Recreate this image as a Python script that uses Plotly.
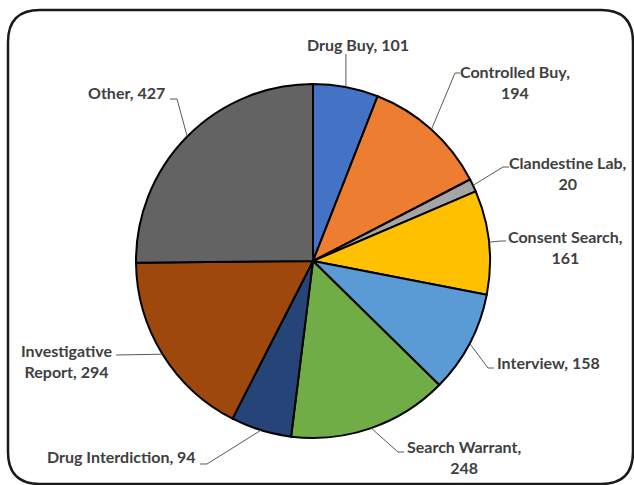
import math
import plotly.graph_objects as go

categories = ["Drug Buy", "Controlled Buy", "Clandestine Lab", "Consent Search",
              "Interview", "Search Warrant", "Drug Interdiction",
              "Investigative Report", "Other"]
values = [101, 194, 20, 161, 158, 248, 94, 294, 427]
colors = ["#4472C4", "#ED7D31", "#A5A5A5", "#FFC000", "#5B9BD5",
          "#70AD47", "#264478", "#9E480E", "#636363"]
label_texts = ["Drug Buy, 101", "Controlled Buy,<br>194", "Clandestine Lab,<br>20",
               "Consent Search,<br>161", "Interview, 158", "Search Warrant,<br>248",
               "Drug Interdiction, 94", "Investigative<br>Report, 294", "Other, 427"]

W, H = 634, 485
CX, CY, R = 313, 261, 177

def px(x):
    return x / W

def py(y):
    return 1 - y / H

fig = go.Figure(go.Pie(
    labels=categories, values=values, sort=False, direction="clockwise", rotation=0,
    marker=dict(colors=colors, line=dict(color="black", width=2)),
    textinfo="none", hoverinfo="label+value", showlegend=False,
    domain=dict(x=[px(CX - R), px(CX + R)], y=[py(CY + R), py(CY - R)]),
))

# label layout: (text x, text y, xanchor, leader points after edge)
label_layout = [
    (358, 44, "center", [(None, 54)]),
    (515, 82, "center", [(455, 73), (460, 73)]),
    (568, 173, "center", [(503, 167), (509, 167)]),
    (565, 247, "center", [(501, 241), (506, 241)]),
    (495, 362, "left", [(488, 368), (494, 368)]),
    (464, 457, "center", [(398, 452), (404, 452)]),
    (198, 456, "right", [(207, 464), (200, 464)]),
    (66, 361, "center", [(116, 355)]),
    (167, 93, "right", [(177, 99), (170, 99)]),
]

total = sum(values)
cum = 0
shapes = []
annotations = []
for v, txt, (tx, ty, xa, pts) in zip(values, label_texts, label_layout):
    mid = (cum + v / 2) / total * 2 * math.pi
    cum += v
    ex = CX + R * math.sin(mid)
    ey = CY - R * math.cos(mid)
    if pts:
        path = f"M {px(ex)} {py(ey)}"
        for (x, y) in pts:
            x = ex if x is None else x
            path += f" L {px(x)} {py(y)}"
        shapes.append(dict(type="path", xref="paper", yref="paper", path=path,
                           line=dict(color="#595959", width=1)))
    annotations.append(dict(x=px(tx), y=py(ty), xref="paper", yref="paper",
                            text=txt, showarrow=False, xanchor=xa, yanchor="middle",
                            align="center",
                            font=dict(family="Lato", size=16, color="#404040", weight="bold")))

# rounded frame
x0, y0, x1, y1, rr = 8, 10, 633, 484, 32
frame = (f"M {px(x0 + rr)} {py(y0)} L {px(x1 - rr)} {py(y0)} "
         f"Q {px(x1)} {py(y0)} {px(x1)} {py(y0 + rr)} L {px(x1)} {py(y1 - rr)} "
         f"Q {px(x1)} {py(y1)} {px(x1 - rr)} {py(y1)} L {px(x0 + rr)} {py(y1)} "
         f"Q {px(x0)} {py(y1)} {px(x0)} {py(y1 - rr)} L {px(x0)} {py(y0 + rr)} "
         f"Q {px(x0)} {py(y0)} {px(x0 + rr)} {py(y0)} Z")
shapes.append(dict(type="path", xref="paper", yref="paper", path=frame,
                   line=dict(color="#1a1a1a", width=2.5)))

fig.update_layout(width=W, height=H, autosize=False,
                  margin=dict(l=0, r=0, t=0, b=0),
                  paper_bgcolor="white", plot_bgcolor="white",
                  shapes=shapes, annotations=annotations)

fig.write_html("out.html", config={"displayModeBar": False},
               post_script="document.body.style.margin='0px';")
